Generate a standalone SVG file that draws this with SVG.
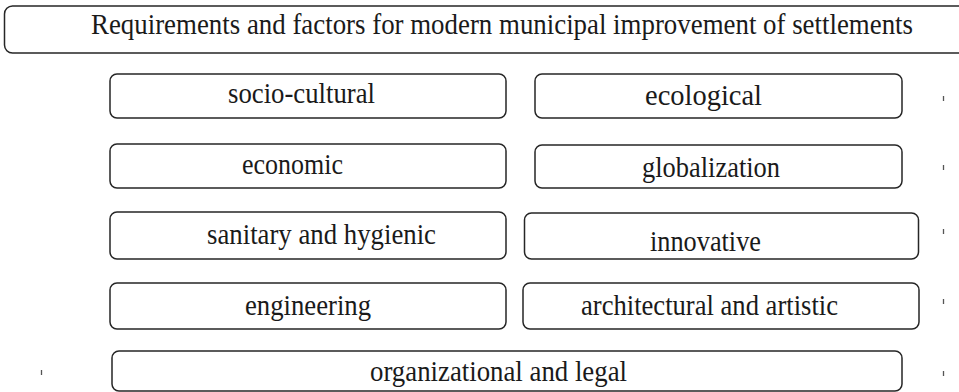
<svg xmlns="http://www.w3.org/2000/svg" width="959" height="392" viewBox="0 0 959 392">
<style>
.box{fill:#fff;stroke:#262626;stroke-width:1.5}
.tick{stroke:#555;stroke-width:1.3}
</style>
<rect width="959" height="392" fill="#fff"/>
<g font-family="'Liberation Serif', 'DejaVu Serif', serif" font-size="29" fill="#1a1a1a">
<g id="title">
<path class="box" d="M959,6 H12.5 A8,8 0 0 0 4.5,14 V45 A8,8 0 0 0 12.5,53 H959"/>
<text x="91" y="34" textLength="822" lengthAdjust="spacingAndGlyphs">Requirements and factors for modern municipal improvement of settlements</text>
</g>
<g id="socio-cultural">
<rect class="box" x="110" y="74" width="396" height="44" rx="7"/>
<text x="228" y="103" textLength="147" lengthAdjust="spacingAndGlyphs">socio-cultural</text>
</g>
<g id="ecological">
<rect class="box" x="535" y="74" width="367" height="44" rx="7"/>
<text x="645" y="105" textLength="117" lengthAdjust="spacingAndGlyphs">ecological</text>
</g>
<g id="economic">
<rect class="box" x="110" y="144" width="396" height="44" rx="7"/>
<text x="242" y="174" textLength="101" lengthAdjust="spacingAndGlyphs">economic</text>
</g>
<g id="globalization">
<rect class="box" x="535" y="145" width="367" height="43" rx="7"/>
<text x="642" y="177" textLength="138" lengthAdjust="spacingAndGlyphs">globalization</text>
</g>
<g id="sanitary">
<rect class="box" x="110" y="212" width="396" height="47" rx="7"/>
<text x="207" y="244" textLength="229" lengthAdjust="spacingAndGlyphs">sanitary and hygienic</text>
</g>
<g id="innovative">
<rect class="box" x="524.5" y="213" width="394" height="46" rx="7"/>
<text x="650" y="251" textLength="111" lengthAdjust="spacingAndGlyphs">innovative</text>
</g>
<g id="engineering">
<rect class="box" x="110" y="283" width="396" height="46" rx="7"/>
<text x="245" y="315" textLength="126" lengthAdjust="spacingAndGlyphs">engineering</text>
</g>
<g id="architectural">
<rect class="box" x="523" y="283" width="396" height="46" rx="7"/>
<text x="581" y="315" textLength="257" lengthAdjust="spacingAndGlyphs">architectural and artistic</text>
</g>
<g id="organizational">
<rect class="box" x="112" y="351" width="790" height="40" rx="7"/>
<text x="370" y="381" textLength="257" lengthAdjust="spacingAndGlyphs">organizational and legal</text>
</g>
</g>
<g id="connectors"></g>
<g id="marks">
<line class="tick" x1="943.5" y1="96" x2="943.5" y2="101"/>
<line class="tick" x1="943.5" y1="165" x2="943.5" y2="170"/>
<line class="tick" x1="943.5" y1="229" x2="943.5" y2="234"/>
<line class="tick" x1="943.5" y1="299" x2="943.5" y2="304"/>
<line class="tick" x1="943.5" y1="371" x2="943.5" y2="376"/>
<line class="tick" x1="41.5" y1="370" x2="41.5" y2="375"/>
</g>
</svg>
